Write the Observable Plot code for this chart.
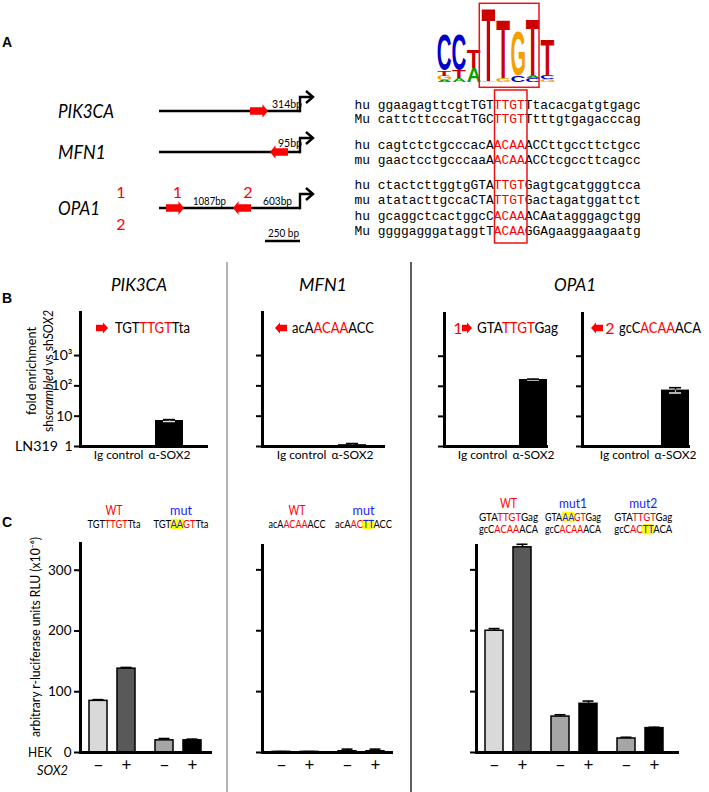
<!DOCTYPE html>
<html><head><meta charset="utf-8">
<script src="https://cdn.jsdelivr.net/npm/d3@7"></script>
<script src="https://cdn.jsdelivr.net/npm/@observablehq/plot@0.6"></script>
<style>
body{margin:0;background:#fff;}
#root{position:relative;width:709px;height:792px;overflow:hidden;background:#fff;}
</style></head><body><div id="root"></div>
<script>
// ================= DATA =================
// Panel A: SOX2 motif logo (bits, stacked bottom -> top)
const logoPos = [1, 2, 3, 4, 5, 6, 7, 8];
const logoLetters = [["A","G","T","C"],["A","T","C"],["A","T"],["G","T"],["G","T"],["C","G"],["C","A","T"],["G","C","T"]];
const logoBits = [[0.05,0.12,0.15,0.93],[0.1,0.2,0.93],[0.37,0.48],[0.04,1.95],[0.1,1.57],[0.18,1.2],[0.1,0.08,1.49],[0.08,0.1,0.93]];
// Panel A: conserved sites (human / mouse)
const seqSpecies = ["hu","Mu","hu","mu","hu","mu","hu","Mu"];
const seqLeft  = ["ggaagagttcgtTGT","cattcttcccatTGC","cagtctctgcccacA","gaactcctgcccaaA","ctactcttggtgGTA","atatacttgccaCTA","gcaggctcactggcC","ggggagggataggtT"];
const seqCore  = ["TTGT","TTGT","ACAA","ACAA","TTGT","TTGT","ACAA","ACAA"];
const seqRight = ["Ttacacgatgtgagc","Ttttgtgagacccag","ACCttgccttctgcc","ACCtcgccttcagcc","Gagtgcatgggtcca","Gactagatggattct","ACAatagggagctgg","GGAgaaggaagaatg"];
const genes = ["PIK3CA","MFN1","OPA1"];
const siteDistances = ["314bp","95bp","1087bp","603bp"];
const scaleBarLabel = "250 bp";
// Panel B: ChIP fold enrichment (shscrambled vs shSOX2), LN319
const chipCategories = ["Ig control","α-SOX2"];
const chipTargets = ["PIK3CA","MFN1","OPA1 site 1","OPA1 site 2"];
const chipIg = [1, 1, 1, 1];
const chipSox2 = [7.2, 1.15, 168, 75];
const chipSox2Err = [0.5, 0.1, 6, 15];
const chipTicks = [1, 10, 100, 1000];
const chipTickText = ["1", "10", "10²", "10³"];
const chipSites = [[["TGT","k"],["TTGT","r"],["Tta","k"]],[["acA","k"],["ACAA","r"],["ACC","k"]],[["GTA","k"],["TTGT","r"],["Gag","k"]],[["gcC","k"],["ACAA","r"],["ACA","k"]]];
// Panel C: luciferase (RLU x10^-6), HEK
const lucSigns = ["−", "+"];
const lucGroupsPIK3CA = ["WT", "mut"];
const lucPIK3CA = [85, 138, 20, 20];
const lucPIK3CAErr = [2, 2, 3, 2];
const lucGroupsMFN1 = ["WT", "mut"];
const lucMFN1 = [1, 1, 2, 2];
const lucMFN1Err = [0.5, 0.5, 3.5, 3.5];
const lucGroupsOPA1 = ["WT", "mut1", "mut2"];
const lucOPA1 = [200, 337, 59, 80, 23, 40];
const lucOPA1Err = [3.5, 5, 3, 4.5, 2, 1.5];
const lucTicks = [0, 100, 200, 300];
const hdrPIK3CA = [[[["TGT","k"],["TTGT","r"],["Tta","k"]]], [[["TGT","k"],["AA","m"],["GT","r"],["Tta","k"]]]];
const hdrMFN1 = [[[["acA","k"],["ACAA","r"],["ACC","k"]]], [[["acA","k"],["AC","r"],["TT","m"],["ACC","k"]]]];
const hdrOPA1 = [
  [[["GTA","k"],["TTGT","r"],["Gag","k"]], [["gcC","k"],["ACAA","r"],["ACA","k"]]],
  [[["GTA","k"],["AA","m"],["GT","r"],["Gag","k"]], [["gcC","k"],["ACAA","r"],["ACA","k"]]],
  [[["GTA","k"],["TTGT","r"],["Gag","k"]], [["gcC","k"],["AC","r"],["TT","m"],["ACA","k"]]]
];

// ================= STYLE =================
const SANS = "Lato, 'Open Sans', sans-serif";
const MONO = "'Liberation Mono', 'DejaVu Sans Mono', monospace";
const ARIAL = "'Liberation Sans', Arial, sans-serif";
const RED = "#ff0000", BLUE = "#1a1aff", YEL = "#ffff00";
const colorOf = {k: "#000", r: RED, m: BLUE, b: BLUE};
const logoColor = {A: "#00a000", C: "#0000cc", G: "#f5a000", T: "#cc0000"};
const plotStyle = {background: "none", fontFamily: SANS, fontSize: "13px", color: "black", overflow: "visible"};

const root = d3.select("#root");
const ov = d3.create("svg").attr("width", 709).attr("height", 792)
  .style("position", "absolute").style("left", "0px").style("top", "0px").style("z-index", 2);
root.node().appendChild(ov.node());

function place(svg, left, top) {
  svg.style.position = "absolute"; svg.style.left = left + "px"; svg.style.top = top + "px";
  root.node().appendChild(svg);
}

function txt(g, o) {
  let host = g, x = o.x, y = o.y;
  if (o.rotate) { host = g.append("g").attr("transform", `translate(${o.x},${o.y}) rotate(${o.rotate})`); x = 0; y = 0; }
  const t = host.append("text").attr("x", x).attr("y", y).attr("dy", "0.35em")
    .attr("text-anchor", o.anchor || "start").attr("font-family", o.family || SANS)
    .attr("font-size", o.size || 13).attr("font-weight", o.weight || null)
    .attr("font-style", o.italic ? "italic" : null).attr("fill", o.fill || "#000");
  const parts = o.parts || [[o.text, o.c || null]];
  parts.forEach(p => {
    const s = t.append("tspan").text(p[0]);
    if (p[1] && p[1] !== "i") s.attr("fill", colorOf[p[1]]);
    if (p[1] === "i" || p[2] === "i") s.attr("font-style", "italic");
  });
  if (o.len) t.attr("textLength", o.len).attr("lengthAdjust", "spacingAndGlyphs");
  let idx = 0;
  parts.forEach(p => {
    const n = p[0].length;
    if (p[1] === "m") {
      const node = t.node();
      const e0 = node.getExtentOfChar(idx), e1 = node.getExtentOfChar(idx + n - 1);
      const r = document.createElementNS("http://www.w3.org/2000/svg", "rect");
      d3.select(r).attr("x", e0.x - 1).attr("y", e0.y + e0.height * 0.08)
        .attr("width", e1.x + e1.width - e0.x + 2).attr("height", e0.height * 0.88)
        .attr("rx", 3).attr("fill", YEL);
      node.parentNode.insertBefore(r, node);
    }
    idx += n;
  });
  return t;
}

function blockArrow(g, tail, tip, cy, bh, hh, hl, fill) {
  const d = Math.sign(tip - tail), neck = tip - d * hl;
  g.append("path").attr("fill", fill || RED)
    .attr("d", `M${tail},${cy - bh}L${neck},${cy - bh}L${neck},${cy - hh}L${tip},${cy}L${neck},${cy + hh}L${neck},${cy + bh}L${tail},${cy + bh}Z`);
}

// ================= PANEL A =================
txt(ov, {x: 2, y: 42, text: "A", family: ARIAL, weight: "bold", size: 14});
const geneY = [111, 152, 208], geneLen = [56, 48, 42];
genes.forEach((gname, i) => txt(ov, {x: 58, y: geneY[i], text: gname, italic: true, size: 19, len: geneLen[i]}));
txt(ov, {x: 272, y: 104, text: siteDistances[0], size: 10.5, len: 30});
txt(ov, {x: 278, y: 143, text: siteDistances[1], size: 10.5, len: 24});
txt(ov, {x: 193, y: 201, text: siteDistances[2], size: 10.5, len: 33});
txt(ov, {x: 263, y: 201, text: siteDistances[3], size: 10.5, len: 29});
geneY.forEach(cy => {
  ov.append("line").attr("x1", 159).attr("x2", 300).attr("y1", cy).attr("y2", cy).attr("stroke", "#000").attr("stroke-width", 2.6);
  ov.append("path").attr("fill", "none").attr("stroke", "#000").attr("stroke-width", 2.4)
    .attr("d", `M300,${cy + 1.2}V${cy - 14}H312`);
  ov.append("path").attr("fill", "none").attr("stroke", "#000").attr("stroke-width", 2.4)
    .attr("d", `M306,${cy - 20}L313,${cy - 14}L306,${cy - 8}`);
});
blockArrow(ov, 250, 268, 111, 3.8, 6.8, 5.5);
blockArrow(ov, 288, 270, 152, 3.8, 6.8, 5.5);
blockArrow(ov, 166, 184, 208, 3.8, 6.8, 5.5);
blockArrow(ov, 251, 233, 208, 3.8, 6.8, 5.5);
txt(ov, {x: 121, y: 192.5, text: "1", fill: RED, size: 16, anchor: "middle"});
txt(ov, {x: 121, y: 224, text: "2", fill: RED, size: 16, anchor: "middle"});
txt(ov, {x: 177.5, y: 192.5, text: "1", fill: RED, size: 16, anchor: "middle"});
txt(ov, {x: 248, y: 192.5, text: "2", fill: RED, size: 16, anchor: "middle"});
ov.append("line").attr("x1", 265).attr("x2", 300).attr("y1", 241).attr("y2", 241).attr("stroke", "#000").attr("stroke-width", 2.6);
txt(ov, {x: 268, y: 233, text: scaleBarLabel, size: 11, len: 31});

// Logo (d3 scales)
const xLogo = d3.scaleBand().domain(logoPos).range([437, 555]).padding(0);
const yLogo = d3.scaleLinear().domain([0, 2]).range([82, 7]);
const cnv = document.createElement("canvas").getContext("2d");
cnv.font = "bold 100px 'Liberation Sans'";
const gLogo = ov.append("g");
logoPos.forEach((p, i) => {
  let cum = 0;
  logoLetters[i].forEach((L, j) => {
    const b = logoBits[i][j];
    const top = yLogo(cum + b), bot = yLogo(cum);
    cum += b;
    const m = cnv.measureText(L);
    const il = -m.actualBoundingBoxLeft, ir = m.actualBoundingBoxRight;
    const it = -m.actualBoundingBoxAscent, ib = m.actualBoundingBoxDescent;
    const x0 = xLogo(p) + 0.6, w = xLogo.bandwidth() - 1.2, h = bot - top;
    if (h < 0.3) return;
    gLogo.append("text").text(L).attr("font-family", ARIAL).attr("font-weight", "bold").attr("font-size", 100)
      .attr("fill", logoColor[L])
      .attr("transform", `translate(${x0},${top}) scale(${w / (ir - il)},${h / (ib - it)}) translate(${-il},${-it})`);
  });
});
ov.append("rect").attr("x", 479.3).attr("y", 3.3).attr("width", 59.7).attr("height", 84)
  .attr("fill", "none").attr("stroke", "#ee1111").attr("stroke-width", 1.5);

const seqY = [104, 118.3, 144, 159, 184, 199.3, 215, 230.7];
seqSpecies.forEach((sp, i) => {
  txt(ov, {x: 354.5, y: seqY[i], family: MONO, size: 12.9,
    parts: [[sp + " " + seqLeft[i], "k"], [seqCore[i], "r"], [seqRight[i], "k"]]});
});
ov.append("rect").attr("x", 494.5).attr("y", 90).attr("width", 32.5).attr("height", 153)
  .attr("fill", "none").attr("stroke", "#ee1111").attr("stroke-width", 1.5);

// ================= separators / titles =================
ov.append("line").attr("x1", 227).attr("x2", 227).attr("y1", 262).attr("y2", 792).attr("stroke", "#9a9a9a").attr("stroke-width", 1.5);
ov.append("line").attr("x1", 411).attr("x2", 411).attr("y1", 262).attr("y2", 792).attr("stroke", "#2a2a2a").attr("stroke-width", 1.5);
const titleX = [139, 323, 575];
genes.forEach((gname, i) => txt(ov, {x: titleX[i], y: 285, text: gname, italic: true, size: 18, anchor: "middle", len: geneLen[i]}));
txt(ov, {x: 2, y: 298, text: "B", family: ARIAL, weight: "bold", size: 14});
txt(ov, {x: 2, y: 522, text: "C", family: ARIAL, weight: "bold", size: 14});

// ================= PANEL B (Plot) =================
function chipChart(k, f) {
  const ml = f.labels ? 62 : 12, mr = 6, mt = 4, mb = 24;
  const left = f.x0 - ml, top = f.y0 - mt;
  const W = ml + (f.x1 - f.x0) + mr, H = mt + (f.y1 - f.y0) + mb;
  const rows = chipCategories.map((c, i) => ({cat: c, value: i ? chipSox2[k] : chipIg[k], err: i ? chipSox2Err[k] : 0}));
  const sox = rows.filter(r => r.err > 0);
  const bw = 28, step = f.sox - f.ig, pi = 1 - bw / step;
  const svg = Plot.plot({
    width: W, height: H, marginLeft: ml, marginRight: mr, marginTop: mt, marginBottom: mb,
    style: plotStyle,
    x: {type: "band", domain: chipCategories, range: [f.ig - bw / 2 - left, f.sox + bw / 2 - left], paddingInner: pi, paddingOuter: 0, align: 0.5},
    y: {type: "log", domain: [1, 10 ** 4.42]},
    marks: [
      Plot.barY(rows, {x: "cat", y1: 1, y2: "value", fill: "black"}),
      Plot.ruleX(sox, {x: "cat", y1: d => d.value - d.err, y2: "value", stroke: "#bdbdbd", strokeWidth: 1.2}),
      Plot.tickY(sox, {x: "cat", y: d => d.value - d.err, stroke: "#dcdcdc", strokeWidth: 1.6, insetLeft: 8, insetRight: 8}),
      Plot.ruleX(sox, {x: "cat", y1: "value", y2: d => d.value + d.err, strokeWidth: 1.5}),
      Plot.tickY(sox, {x: "cat", y: d => d.value + d.err, strokeWidth: 1.6, insetLeft: 8, insetRight: 8}),
      Plot.ruleY([1], {strokeWidth: 3}),
      Plot.frame({anchor: "left", strokeWidth: 3}),
      Plot.axisY({ticks: chipTicks, tickSize: 6, tickPadding: 2, strokeWidth: 2, fontSize: 14, label: null,
        tickFormat: f.labels ? (d => chipTickText[chipTicks.indexOf(d)]) : (() => "")}),
      Plot.axisX({tickSize: 0, tickPadding: 4, fontSize: 12, label: null})
    ]
  });
  place(svg, left, top);
}
chipChart(0, {x0: 80, x1: 208, y0: 312, y1: 446, ig: 118, sox: 169, labels: true});
chipChart(1, {x0: 262, x1: 385, y0: 312, y1: 446, ig: 301, sox: 352});
chipChart(2, {x0: 444, x1: 548, y0: 313, y1: 446, ig: 482, sox: 533});
chipChart(3, {x0: 582, x1: 690, y0: 313, y1: 446, ig: 624, sox: 675});

blockArrow(ov, 96, 108, 328, 3.3, 5.6, 5);
txt(ov, {x: 115, y: 328, parts: chipSites[0], size: 15.5, len: 75});
blockArrow(ov, 287, 275, 328, 3.3, 5.6, 5);
txt(ov, {x: 292, y: 328, parts: chipSites[1], size: 15.5, len: 82});
txt(ov, {x: 458, y: 328, text: "1", fill: RED, size: 16, anchor: "middle"});
blockArrow(ov, 462, 472, 328, 3.3, 5.6, 5);
txt(ov, {x: 477, y: 328, parts: chipSites[2], size: 15.5, len: 81});
blockArrow(ov, 603, 591, 328, 3.3, 5.6, 5);
txt(ov, {x: 610, y: 328, text: "2", fill: RED, size: 16, anchor: "middle"});
txt(ov, {x: 619, y: 328, parts: chipSites[3], size: 15.5, len: 82});
txt(ov, {x: 15, y: 446, text: "LN319", size: 14, len: 43});
txt(ov, {x: 31, y: 371, rotate: -90, anchor: "middle", text: "fold enrichment", size: 13.5, len: 88});
txt(ov, {x: 48.5, y: 371, rotate: -90, anchor: "middle", size: 13.5, len: 122,
  parts: [["sh", null], ["scrambled", "i"], [" vs sh", null], ["SOX2", "i"]]});

// ================= PANEL C (Plot) =================
function lucChart(groups, values, errors, f) {
  const ml = f.labels ? 62 : 12, mr = 6, mt = 4, mb = 32;
  const left = f.x0 - ml, top = f.y0 - mt;
  const W = ml + (f.x1 - f.x0) + mr, H = mt + (f.y1 - f.y0) + mb;
  const G = groups.length, n = G * 2;
  const step = 28.5, pi = 0.368, bw = step * (1 - pi);
  const base = f.first + 5 * (G - 1);
  const r0 = base - bw / 2 - left;
  const fills = ["#d9d9d9", "#595959", "#a6a6a6", "#000000"];
  const rows = [];
  groups.forEach((g, gi) => lucSigns.forEach((s, si) => {
    const k = gi * 2 + si;
    rows.push({group: g, id: g + s, sign: s, value: values[k], err: errors[k], fill: fills[(gi === 0 ? 0 : 2) + si]});
  }));
  const marks = [];
  groups.forEach((g, gi) => {
    const dx = (gi - (G - 1) / 2) * 10;
    const gr = rows.filter(r => r.group === g);
    marks.push(
      Plot.ruleX(gr, {x: "id", y1: "value", y2: d => d.value + d.err, dx, strokeWidth: 1.5}),
      Plot.tickY(gr, {x: "id", y: d => d.value + d.err, dx, strokeWidth: 1.6, insetLeft: 3.5, insetRight: 3.5}),
      Plot.barY(gr, {x: "id", y: "value", fill: "fill", stroke: "black", strokeWidth: 1.5, dx}),
      Plot.text(gr, {x: "id", text: "sign", frameAnchor: "bottom", dy: 18, dx, fontSize: 17})
    );
  });
  marks.push(
    Plot.ruleY([0], {strokeWidth: 3}),
    Plot.frame({anchor: "left", strokeWidth: 3}),
    Plot.axisY({ticks: lucTicks, tickSize: 6, tickPadding: 3, strokeWidth: 2, fontSize: 13.5, label: null,
      tickFormat: f.labels ? (d => String(d)) : (() => "")})
  );
  const svg = Plot.plot({
    width: W, height: H, marginLeft: ml, marginRight: mr, marginTop: mt, marginBottom: mb,
    style: plotStyle,
    x: {type: "band", domain: rows.map(r => r.id), range: [r0, r0 + step * (n - pi)], paddingInner: pi, paddingOuter: 0, align: 0.5, axis: null},
    y: {domain: [0, f.ymax]},
    color: {type: "identity"},
    marks
  });
  place(svg, left, top);
}
lucChart(lucGroupsPIK3CA, lucPIK3CA, lucPIK3CAErr, {x0: 80, x1: 212, y0: 543, y1: 752, ymax: 344, first: 97, labels: true});
lucChart(lucGroupsMFN1, lucMFN1, lucMFN1Err, {x0: 262, x1: 393, y0: 545, y1: 752, ymax: 340, first: 280});
lucChart(lucGroupsOPA1, lucOPA1, lucOPA1Err, {x0: 476, x1: 679, y0: 545, y1: 752, ymax: 340, first: 493});

function header(groups, hdr, cx, labelY, seqY, lens, lblLens) {
  groups.forEach((g, i) => {
    txt(ov, {x: cx[i], y: labelY, text: g, fill: i === 0 ? RED : BLUE, size: 14, anchor: "middle", len: lblLens[i]});
    hdr[i].forEach((line, j) => txt(ov, {x: cx[i], y: seqY[j], parts: line, size: 10.5, anchor: "middle", len: lens[i]}));
  });
}
header(lucGroupsPIK3CA, hdrPIK3CA, [114, 181], 510, [524], [53, 55], [17, 22]);
header(lucGroupsMFN1, hdrMFN1, [297, 363.5], 510, [524], [57, 57], [17, 22]);
header(lucGroupsOPA1, hdrOPA1, [508.5, 573, 643.3], 503, [517, 529.3], [59, 56, 58], [17, 28, 28]);

txt(ov, {x: 35, y: 637, rotate: -90, anchor: "middle", text: "arbitrary r-luciferase units RLU (x10⁻⁶)", size: 13, len: 200});
txt(ov, {x: 28, y: 752, text: "HEK", size: 14, len: 24});
txt(ov, {x: 37, y: 770, text: "SOX2", italic: true, size: 14, len: 31});
</script></body></html>
